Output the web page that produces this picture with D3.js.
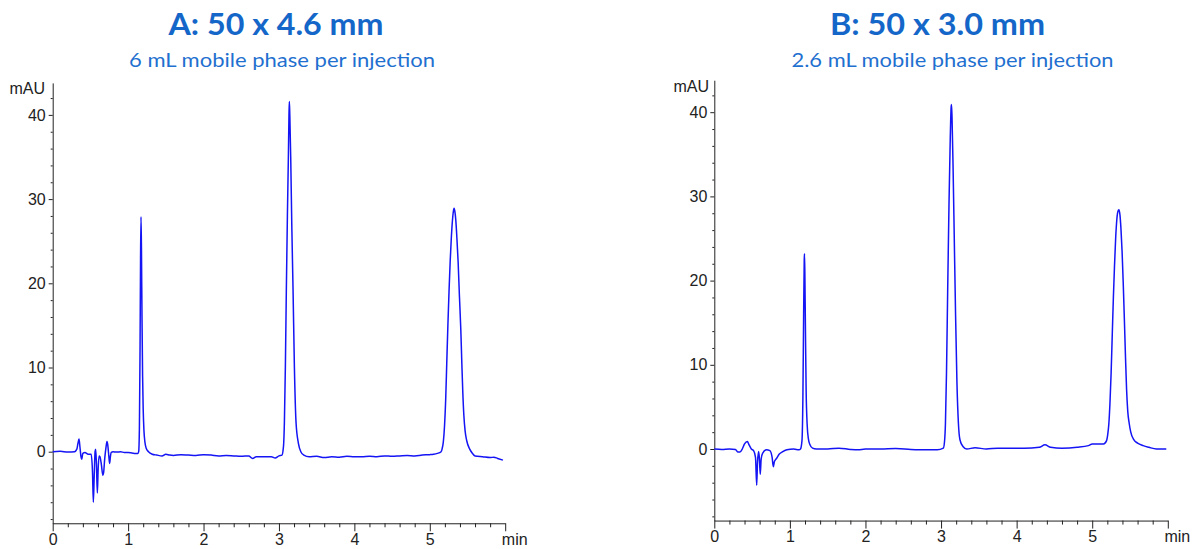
<!DOCTYPE html>
<html>
<head>
<meta charset="utf-8">
<script src="https://cdn.jsdelivr.net/npm/d3@7"></script>
<style>
html,body{margin:0;padding:0;background:#fff;}
svg{display:block;}
.tick text{font-family:"Liberation Sans",Arial,sans-serif;font-size:16px;fill:#222;}
</style>
</head>
<body>
<svg id="chart" width="1192" height="549"></svg>
<script>
// ---- data ----
const titles = ["A: 50 x 4.6 mm", "B: 50 x 3.0 mm"];
const subtitles = ["6 mL mobile phase per injection", "2.6 mL mobile phase per injection"];
const xMajorTicks = [0, 1, 2, 3, 4, 5, 6];
const xTickLabels = ["0", "1", "2", "3", "4", "5", "min"];
const yMajorTicks = [0, 10, 20, 30, 40];
const yUnit = "mAU";

// chromatogram A: [time (min), absorbance (mAU)]
const traceA = [
  [0,0],[0.1,0.05],[0.2,-0.05],[0.29,0],[0.32,0.3],[0.335,1.0],[0.349,1.5],[0.362,0.5],[0.375,-0.6],[0.384,-0.9],
  [0.40,-0.2],[0.428,-0.1],[0.47,-0.3],[0.51,-0.3],[0.528,-2.5],[0.539,-6.0],[0.550,-3],[0.562,0],[0.570,0.3],
  [0.580,-1.5],[0.592,-4.9],[0.603,-2],[0.615,-0.5],[0.627,-0.6],[0.645,-1.5],[0.665,-2.8],[0.675,-2.5],[0.69,-0.8],
  [0.705,0.4],[0.720,1.2],[0.730,0.8],[0.742,-0.3],[0.755,-1.4],[0.765,-0.6],[0.775,-0.1],[0.80,0],[0.85,-0.05],
  [0.9,0],[0.95,-0.1],[1.0,-0.1],[1.05,-0.15],[1.10,-0.2],[1.13,-0.2],
  [1.140,0],[1.150,3],[1.158,12],[1.165,23],[1.171,27.9],[1.177,24],[1.184,16],[1.192,9],[1.200,5],[1.210,2.5],
  [1.222,1.2],[1.240,0.4],[1.27,0],[1.32,-0.3],[1.38,-0.4],[1.45,-0.5],[1.5,-0.3],[1.55,-0.4],[1.6,-0.45],[1.7,-0.35],
  [1.8,-0.4],[1.9,-0.45],[2.0,-0.35],[2.1,-0.4],[2.2,-0.5],[2.3,-0.45],[2.4,-0.5],[2.5,-0.55],[2.6,-0.5],[2.65,-0.8],
  [2.7,-0.6],[2.8,-0.6],[2.9,-0.6],[2.95,-0.75],[3.0,-0.5],[3.04,-0.4],
  [3.055,0.2],[3.063,1],[3.072,3.4],[3.085,10],[3.098,19.2],[3.112,28],[3.125,35],[3.133,40],[3.138,41.6],[3.144,40],
  [3.156,35],[3.170,27],[3.187,19.2],[3.205,10],[3.227,3.4],[3.258,1],[3.29,0],[3.33,-0.4],
  [3.4,-0.6],[3.5,-0.55],[3.6,-0.7],[3.7,-0.6],[3.8,-0.65],[3.9,-0.55],[4.0,-0.6],[4.1,-0.6],[4.2,-0.55],[4.3,-0.6],
  [4.4,-0.5],[4.5,-0.55],[4.6,-0.5],[4.7,-0.45],[4.8,-0.5],[4.9,-0.4],[5.0,-0.35],[5.05,-0.3],[5.10,-0.2],
  [5.15,0],[5.165,0.4],[5.18,1.2],[5.195,3],[5.212,6.5],[5.225,10.5],[5.24,15],[5.255,19],[5.27,22.5],[5.285,25.3],
  [5.30,27.4],[5.312,28.5],[5.322,28.9],[5.333,28.5],[5.345,27.5],[5.36,25.3],[5.376,22.5],[5.393,18.5],[5.411,14.6],
  [5.425,10.5],[5.438,7],[5.452,4.3],[5.468,2.5],[5.49,1.3],[5.53,0.3],[5.557,-0.1],
  [5.6,-0.5],[5.7,-0.6],[5.8,-0.7],[5.85,-0.65],[5.9,-0.8],[5.97,-1.0]
];

// chromatogram B: [time (min), absorbance (mAU)]
const traceB = [
  [0,0],[0.1,-0.05],[0.2,0],[0.28,-0.05],[0.31,-0.35],[0.34,-0.35],[0.37,0],[0.40,0.6],[0.437,0.9],[0.46,0.5],
  [0.49,0],[0.52,-0.2],[0.545,-1.0],[0.561,-4.3],[0.572,-1.5],[0.587,-0.3],[0.597,-1.2],[0.608,-3.0],[0.620,-1.2],
  [0.64,-0.5],[0.69,-0.1],[0.735,-0.2],[0.765,-1.0],[0.781,-2.1],[0.795,-1.5],[0.825,-1.1],[0.86,-0.6],[0.9,-0.35],
  [0.96,-0.1],[1.05,0],[1.12,-0.1],[1.14,0],
  [1.160,1],[1.172,6],[1.182,16],[1.190,22.5],[1.193,23.2],[1.198,21],[1.206,14],[1.215,7],[1.228,3],[1.245,1.2],
  [1.266,0.5],[1.30,0.1],[1.35,0],[1.5,0],[1.65,0.1],[1.8,-0.05],[1.9,-0.1],[2.0,0],[2.2,0],[2.4,0.05],[2.6,-0.05],
  [2.8,-0.1],[2.95,-0.1],[3.03,0.1],
  [3.045,0.8],[3.058,3],[3.072,9],[3.088,19],[3.105,29],[3.122,37],[3.133,40.5],[3.138,40.9],[3.145,39.5],[3.160,33],
  [3.175,25],[3.192,16],[3.210,8],[3.230,3],[3.250,1.1],[3.29,0.3],[3.34,0],
  [3.45,0.15],[3.6,0],[3.75,0.1],[3.9,0.1],[4.1,0.1],[4.3,0.2],[4.375,0.5],[4.45,0.2],[4.6,0.1],[4.8,0.2],[4.95,0.4],
  [5.0,0.6],[5.08,0.6],[5.15,0.6],[5.19,1],
  [5.205,1.7],[5.22,3],[5.235,5.5],[5.25,9],[5.265,13.5],[5.28,18],[5.295,21.8],[5.31,25],[5.325,27.2],[5.34,28.2],
  [5.353,28.4],[5.367,27.8],[5.38,26.2],[5.395,23.5],[5.41,19.8],[5.425,15.5],[5.44,11],[5.455,7],[5.47,4.5],
  [5.49,3],[5.51,2.0],[5.55,1.1],[5.60,0.7],[5.675,0.4],[5.75,0.2],[5.85,0],[5.98,0]
];

const traces = [traceA, traceB];

// ---- layout ----
const panels = [
  {x0:52.7, x1:505.2, yZero:451.7, titleX:276, titleW:215, subX:282, subW:306, unitX:45, unitY:94},
  {x0:714.3, x1:1167.8, yZero:449.0, titleX:937.5, titleW:215, subX:952.5, subW:322, unitX:709, unitY:92}
];
const pxPerUnit = 8.42;
const yDomain = [-8.5, 43.8];
const lineColor = "#1414f5";
const axisColor = "#222";

const svg = d3.select("#chart");

panels.forEach((p, i) => {
  const x = d3.scaleLinear().domain([0, 6]).range([p.x0, p.x1]);
  const y = d3.scaleLinear().domain(yDomain)
      .range([p.yZero - yDomain[0]*pxPerUnit, p.yZero - yDomain[1]*pxPerUnit]);
  const yBottom = y(yDomain[0]);

  // titles
  svg.append("text")
    .attr("x", p.titleX).attr("y", 35)
    .attr("text-anchor", "middle")
    .attr("textLength", p.titleW).attr("lengthAdjust", "spacingAndGlyphs")
    .style("font-family", "Lato, 'Open Sans', sans-serif")
    .style("font-weight", "bold").style("font-size", "30px")
    .style("fill", "#1467c8")
    .text(titles[i]);
  svg.append("text")
    .attr("x", p.subX).attr("y", 67)
    .attr("text-anchor", "middle")
    .attr("textLength", p.subW).attr("lengthAdjust", "spacingAndGlyphs")
    .style("font-family", "Lato, 'Open Sans', sans-serif")
    .style("font-size", "20px")
    .style("fill", "#1f70cf")
    .text(subtitles[i]);

  // minor ticks x
  const xMinor = d3.range(0, 6.0001, 0.2).filter(v => Math.abs(v - Math.round(v)) > 1e-6);
  svg.append("g").attr("transform", `translate(0,${yBottom})`)
    .call(d3.axisBottom(x).tickValues(xMinor).tickSize(4).tickFormat(""))
    .call(g => g.select(".domain").remove())
    .call(g => g.selectAll("line").attr("stroke", axisColor));
  // major x axis
  svg.append("g").attr("transform", `translate(0,${yBottom})`)
    .call(d3.axisBottom(x).tickValues(xMajorTicks).tickSize(8).tickSizeOuter(0).tickPadding(2)
      .tickFormat((d, k) => xTickLabels[k]))
    .call(g => g.select(".domain").attr("stroke", axisColor))
    .call(g => g.selectAll("line").attr("stroke", axisColor))
    .call(g => g.selectAll(".tick").filter(d => d === 6).select("text").attr("dx", "9px"));

  // minor ticks y
  const yMinor = d3.range(-8, 43.9, 2).filter(v => v % 10 !== 0);
  svg.append("g").attr("transform", `translate(${p.x0},0)`)
    .call(d3.axisLeft(y).tickValues(yMinor).tickSize(2).tickFormat(""))
    .call(g => g.select(".domain").remove())
    .call(g => g.selectAll("line").attr("stroke", axisColor));
  // major y axis
  svg.append("g").attr("transform", `translate(${p.x0},0)`)
    .call(d3.axisLeft(y).tickValues(yMajorTicks).tickSize(4).tickSizeOuter(0).tickPadding(3))
    .call(g => g.select(".domain").attr("stroke", axisColor))
    .call(g => g.selectAll("line").attr("stroke", axisColor));

  // unit label
  svg.append("text")
    .attr("x", p.unitX).attr("y", p.unitY)
    .attr("text-anchor", "end")
    .style("font-family", "'Liberation Sans', Arial, sans-serif")
    .style("font-size", "16px").style("fill", "#222")
    .text(yUnit);

  // trace
  const line = d3.line().x(d => x(d[0])).y(d => y(d[1])).curve(d3.curveMonotoneX);
  svg.append("path")
    .datum(traces[i])
    .attr("fill", "none")
    .attr("stroke", lineColor)
    .attr("stroke-width", 1.5)
    .attr("stroke-linejoin", "round")
    .attr("d", line);
});
</script>
</body>
</html>
